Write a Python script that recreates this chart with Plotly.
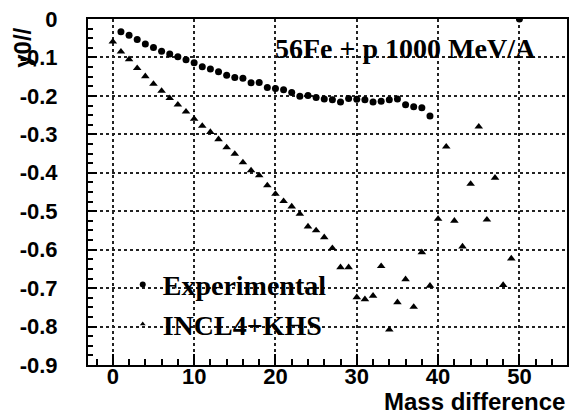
import plotly.graph_objects as go

# ---- data ----
exp_x = list(range(1, 40)) + [50]
exp_y = [-0.033, -0.042, -0.053, -0.065, -0.074, -0.084, -0.091, -0.098, -0.106, -0.114,
         -0.124, -0.130, -0.137, -0.146, -0.152, -0.154, -0.166, -0.165, -0.178, -0.181,
         -0.184, -0.191, -0.201, -0.199, -0.204, -0.208, -0.210, -0.216, -0.207, -0.209,
         -0.210, -0.216, -0.214, -0.210, -0.208, -0.223, -0.228, -0.231, -0.252, 0.0]

incl_x = list(range(0, 50))
incl_y = [-0.059, -0.085, -0.105, -0.128, -0.149, -0.169, -0.187, -0.206, -0.223, -0.241,
          -0.260, -0.278, -0.294, -0.313, -0.334, -0.351, -0.373, -0.394, -0.407, -0.433,
          -0.455, -0.474, -0.488, -0.507, -0.540, -0.550, -0.568, -0.596, -0.646, -0.646,
          -0.724, -0.729, -0.720, -0.643, -0.808, -0.737, -0.677, -0.749, -0.607, -0.694,
          -0.520, -0.332, -0.525, -0.592, -0.429, -0.280, -0.522, -0.413, -0.692, -0.623]

x_tickvals = [0, 10, 20, 30, 40, 50]
x_ticktext = ["0", "10", "20", "30", "40", "50"]
y_tickvals = [0, -0.1, -0.2, -0.3, -0.4, -0.5, -0.6, -0.7, -0.8, -0.9]
y_ticktext = ["0", "-0.1", "-0.2", "-0.3", "-0.4", "-0.5", "-0.6", "-0.7", "-0.8", "-0.9"]

series_names = ["Experimental", "INCL4+KHS"]
title_text = "56Fe + p 1000 MeV/A"
x_title = "Mass difference"
y_title = "y0//"

fig = go.Figure()
# data traces
fig.add_trace(go.Scatter(x=exp_x, y=exp_y, mode="markers", showlegend=False,
                         marker=dict(symbol="circle", size=7, color="black"), cliponaxis=True))
fig.add_trace(go.Scatter(x=incl_x, y=incl_y, mode="markers", showlegend=False,
                         marker=dict(symbol="triangle-up", size=7.5, color="black"), cliponaxis=True))
# legend entries
fig.add_trace(go.Scatter(x=[None], y=[None], mode="markers", name=series_names[0],
                         marker=dict(symbol="circle", size=6, color="black")))
fig.add_trace(go.Scatter(x=[None], y=[None], mode="markers", name=series_names[1],
                         marker=dict(symbol="triangle-up", size=5, color="black")))

tickfont = dict(family="Liberation Sans, Arial, sans-serif", size=22, color="black", weight="bold")
serif = "Liberation Serif, Times New Roman, serif"

fig.update_layout(
    width=570, height=413,
    margin=dict(l=88, r=3, t=19, b=48, autoexpand=False),
    paper_bgcolor="white", plot_bgcolor="white",
    showlegend=True,
    legend=dict(x=0.0725, y=0.304, xanchor="left", yanchor="top",
                bgcolor="rgba(0,0,0,0)", borderwidth=0,
                font=dict(family=serif, size=28, color="black", weight="bold"),
                itemsizing="trace", tracegroupgap=0),
    xaxis=dict(range=[-3.05, 55.85], tickmode="array", tickvals=x_tickvals, ticktext=x_ticktext,
               ticks="inside", ticklen=11, tickwidth=1.5, tickcolor="black",
               minor=dict(tickmode="linear", tick0=0, dtick=2, ticks="inside", ticklen=6,
                          tickwidth=1.5, tickcolor="black", showgrid=False),
               showgrid=True, gridcolor="#222", gridwidth=2, griddash="dot",
               showline=True, linecolor="black", linewidth=2, mirror=True,
               zeroline=False, tickfont=tickfont, ticklabelstandoff=-9, automargin=False),
    yaxis=dict(range=[-0.9, 0], tickmode="array", tickvals=y_tickvals, ticktext=y_ticktext,
               ticks="inside", ticklen=9, tickwidth=1.5, tickcolor="black",
               minor=dict(tickmode="linear", tick0=0, dtick=0.025, ticks="inside", ticklen=5,
                          tickwidth=1.5, tickcolor="black", showgrid=False),
               showgrid=True, gridcolor="#222", gridwidth=1.5, griddash="dot",
               showline=True, linecolor="black", linewidth=2, mirror=True,
               zeroline=False, tickfont=tickfont, ticklabelstandoff=24, automargin=False),
    annotations=[
        dict(text=title_text, xref="paper", yref="paper", x=0.386, y=0.916,
             xanchor="left", yanchor="middle", showarrow=False,
             font=dict(family=serif, size=28, color="black", weight="bold")),
        dict(text=x_title, xref="paper", yref="paper", x=1.0, y=-0.105,
             xanchor="right", yanchor="middle", showarrow=False,
             font=dict(family="Liberation Sans, Arial, sans-serif", size=24,
                       color="black", weight="bold")),
        dict(text=y_title, xref="paper", yref="paper", x=-0.136, y=0.98,
             xanchor="center", yanchor="top", showarrow=False, textangle=-90,
             font=dict(family="Liberation Sans, Arial, sans-serif", size=24,
                       color="black", weight="bold")),
    ],
)

fig.write_html("out.html", config={"displayModeBar": False},
               post_script="document.body.style.margin='0';document.body.style.overflow='hidden';")
